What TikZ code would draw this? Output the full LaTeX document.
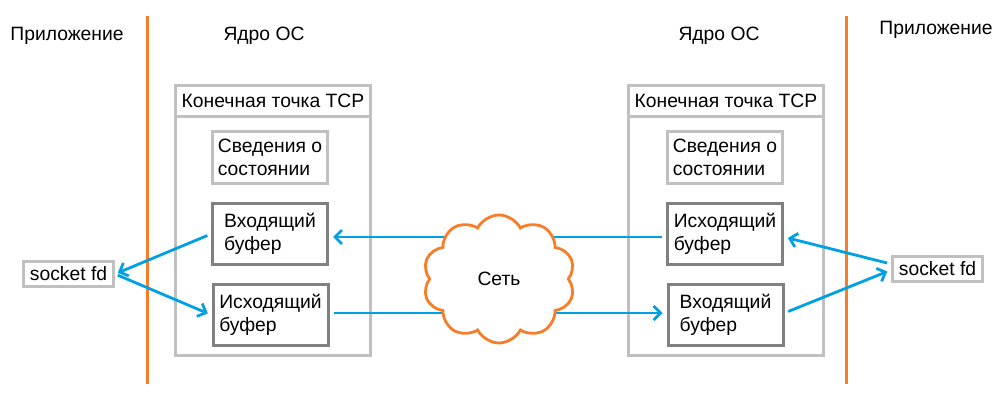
\documentclass[tikz,border=0pt]{standalone}
\usepackage{fontspec}
\setmainfont{Liberation Sans}
\usetikzlibrary{arrows.meta,shapes.symbols}
\definecolor{orng}{RGB}{247,125,40}
\definecolor{blu}{RGB}{0,160,227}
\definecolor{lgray}{RGB}{192,192,192}
\definecolor{dgray}{RGB}{128,128,128}
\begin{document}
\begin{tikzpicture}[x=1pt,y=-1pt,
  font=\fontsize{19.3}{22.5}\selectfont,
  lbl/.style={inner sep=0pt},
  tcpbox/.style={draw=lgray, line width=3pt, minimum width=195pt, minimum height=270pt, inner sep=0pt},
  hdrbox/.style={draw=lgray, line width=3pt, minimum width=195pt, minimum height=31pt, inner sep=0pt},
  statebox/.style={draw=lgray, line width=3pt, minimum width=115pt, minimum height=52pt, inner sep=0pt, align=left},
  bufbox/.style={draw=dgray, line width=3pt, minimum width=115pt, minimum height=61pt, inner sep=0pt, align=left},
  sockbox/.style={draw=lgray, line width=3pt, minimum width=90pt, minimum height=25pt, inner sep=0pt},
  conn/.style={draw=blu, line width=2.8pt, -{Straight Barb[length=7pt,width=14pt]}},
  divider/.style={draw=orng, line width=3pt},
  netcloud/.style={cloud, cloud puffs=10, cloud puff arc=125, aspect=1.15, draw=orng, fill=white, line width=2.8pt, minimum width=152pt, minimum height=128pt, inner sep=0pt}
]
\useasboundingbox (0,0) rectangle (1007,403);

% dividers
\draw[divider] (147,16) -- (147,384);
\draw[divider] (846,16) -- (846,384);

% titles
\node[lbl] (appL) at (67,36) {Приложение};
\node[lbl] (kerL) at (264,36) {Ядро ОС};
\node[lbl] (kerR) at (719,36) {Ядро ОС};
\node[lbl] (appR) at (936,30) {Приложение};

% left endpoint
\node[tcpbox] (tcpL) at (273,220.5) {};
\node[hdrbox] (hdrL) at (273,101) {Конечная точка TCP};
\node[statebox] (stL) at (270,157.5) {Сведения о\\состоянии};
\node[bufbox] (inL) at (270,234) {Входящий\\буфер};
\node[bufbox] (outL) at (270.5,315) {Исходящий\\буфер};

% right endpoint
\node[tcpbox] (tcpR) at (726,220.5) {};
\node[hdrbox] (hdrR) at (726,101) {Конечная точка TCP};
\node[statebox] (stR) at (725,157.5) {Сведения о\\состоянии};
\node[bufbox] (outR) at (725,234) {Исходящий\\буфер};
\node[bufbox] (inR) at (725.5,315) {Входящий\\буфер};

% sockets
\node[sockbox] (sockL) at (68.5,274) {socket fd};
\node[sockbox] (sockR) at (937.5,269) {socket fd};

% connectors
\draw[conn, shorten <=4pt, shorten >=3pt] (inL.west) -- (sockL.east);
\draw[conn, shorten <=3pt, shorten >=4pt] (sockL.east) -- (outL.west);
\draw[conn, shorten <=4pt, shorten >=4pt] ([yshift=-3pt]outR.west) -- ([yshift=-3pt]inL.east);
\draw[conn, shorten <=4pt, shorten >=4pt] ([yshift=2pt]outL.east) -- ([yshift=2pt]inR.east -| inR.west);
\draw[conn, shorten <=4pt, shorten >=4pt] ([yshift=5pt]sockR.west) -- ([yshift=-3pt]outR.east);
\draw[conn, shorten <=4pt, shorten >=4pt] ([yshift=2pt]inR.east) -- ([yshift=-1pt]sockR.west);

% network cloud
\node[netcloud] (net) at (499,279) {Сеть};
\end{tikzpicture}
\end{document}
